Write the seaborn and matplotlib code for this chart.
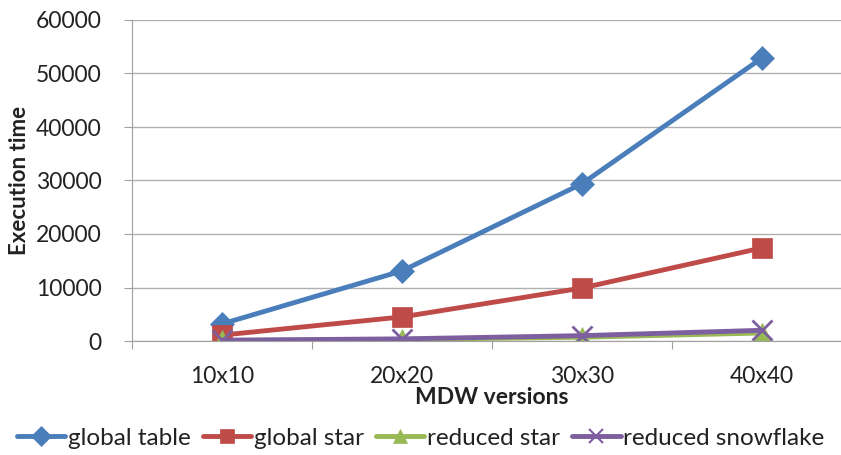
import pandas as pd
import seaborn as sns
import matplotlib.pyplot as plt
from matplotlib.lines import Line2D

versions = ["10x10", "20x20", "30x30", "40x40"]
global_table = [3200, 13100, 29400, 52900]
global_star = [1100, 4500, 9900, 17400]
reduced_star = [100, 300, 700, 1500]
reduced_snowflake = [150, 400, 1000, 2000]

series = {
    "global table": global_table,
    "global star": global_star,
    "reduced star": reduced_star,
    "reduced snowflake": reduced_snowflake,
}
colors = ["#4A7EBB", "#BE4B48", "#98B954", "#7D5FA0"]
markers = ["D", "s", "^", "x"]
msizes = [12, 14, 14, 14]

sns.set_style("white")
plt.rcParams["font.family"] = ["Lato", "DejaVu Sans"]

fig = plt.figure(figsize=(8.41, 4.55), dpi=100)
ax = fig.add_axes([132 / 841, (455 - 341) / 455, 720 / 841, 321 / 455])

for (name, vals), c, m, ms in zip(series.items(), colors, markers, msizes):
    df = pd.DataFrame({"version": versions, "time": vals})
    sns.lineplot(data=df, x="version", y="time", ax=ax, color=c, marker=m,
                 markersize=ms, linewidth=3.5, legend=False,
                 markeredgecolor=c, markeredgewidth=2 if m == "x" else 0.5)

ax.set_xlim(-0.5, 3.5)
ax.set_ylim(0, 60000)
ax.set_yticks(range(0, 60001, 10000))
ax.grid(axis="y", color="#B0B0B0", linewidth=1)
ax.set_axisbelow(True)
for s in ["top", "right"]:
    ax.spines[s].set_visible(False)
for s in ["left", "bottom"]:
    ax.spines[s].set_color("#A0A0A0")
ax.set_xticks([-0.5, 0.5, 1.5, 2.5, 3.5], minor=False)
ax.set_xticklabels([])
ax.set_xticks(range(4), minor=True)
ax.set_xticklabels(versions, minor=True)
ax.tick_params(axis="x", which="major", length=6, color="#A0A0A0", direction="out", bottom=True)
ax.tick_params(axis="x", which="minor", length=0, labelsize=16.5, pad=18, labelcolor="#222222")
ax.tick_params(axis="y", length=6, color="#A0A0A0", labelsize=16.5, left=True, pad=16,
               labelcolor="#222222")

ax.set_xlabel("MDW versions", fontsize=16.5, fontweight="bold", labelpad=0, color="#222222")
ax.set_ylabel("Execution time", fontsize=16, fontweight="bold", color="#222222")
ax.yaxis.set_label_coords(-0.142, 0.5)

handles = [Line2D([], [], color=c, marker=m, markersize=10, linewidth=3.5,
                  markeredgecolor=c, markeredgewidth=1.5 if m == "x" else 0.5)
           for c, m in zip(colors, markers)]
fig.legend(handles, list(series.keys()), loc="center", bbox_to_anchor=(0.5, (455 - 438) / 455),
           ncol=4, frameon=False, fontsize=17.5, handlelength=2.0, handletextpad=0.1,
           columnspacing=0.5, borderaxespad=0, labelcolor="#222222")

fig.savefig("out.png", dpi=100)
